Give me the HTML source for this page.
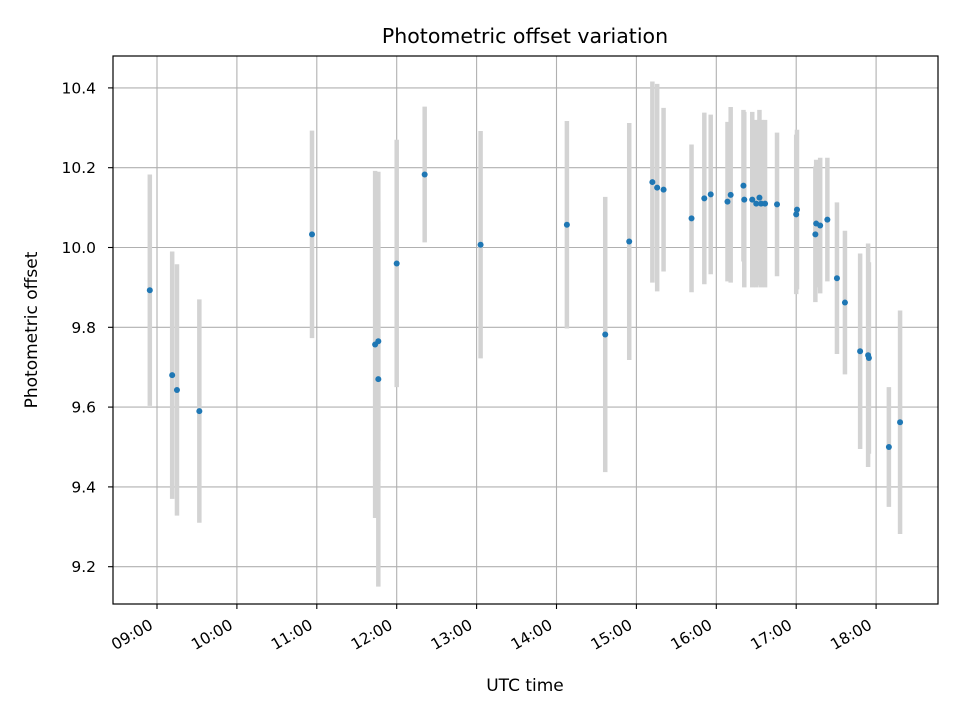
<!DOCTYPE html>
<html><head><meta charset="utf-8"><style>
body{margin:0;background:#fff;}
svg text{font-family:"DejaVu Sans","Liberation Sans",sans-serif;fill:#000;}
</style></head><body>
<svg id="chart" width="960" height="720">
<text x="525" y="43" text-anchor="middle" font-size="20.5">Photometric offset variation</text>
<text x="525" y="691" text-anchor="middle" font-size="17">UTC time</text>
<text transform="translate(37,330) rotate(-90)" text-anchor="middle" font-size="17">Photometric offset</text>
<g id="grid"></g><g id="errs"></g><g id="pts"></g><g id="ticks"></g>
<rect x="113" y="56" width="825" height="548" fill="none" stroke="#000" stroke-width="1.2"/>
</svg>
<script>
const times=[8.91,9.19,9.25,9.53,10.94,11.73,11.77,11.77,12.0,12.35,13.05,14.13,14.61,14.91,15.2,15.26,15.34,15.69,15.85,15.93,16.14,16.18,16.34,16.35,16.45,16.5,16.54,16.56,16.61,16.76,17.0,17.01,17.24,17.25,17.3,17.39,17.51,17.61,17.8,17.9,17.91,18.16,18.3];
const values=[9.893,9.68,9.643,9.59,10.033,9.757,9.765,9.67,9.96,10.183,10.007,10.057,9.782,10.015,10.164,10.15,10.145,10.073,10.123,10.133,10.115,10.132,10.155,10.12,10.12,10.11,10.125,10.11,10.11,10.108,10.083,10.095,10.033,10.06,10.055,10.07,9.923,9.862,9.74,9.73,9.723,9.5,9.562];
const errors=[0.29,0.31,0.315,0.28,0.26,0.435,0.3,0.52,0.31,0.17,0.285,0.26,0.345,0.297,0.252,0.26,0.205,0.185,0.215,0.2,0.2,0.22,0.19,0.22,0.22,0.21,0.22,0.21,0.21,0.18,0.2,0.2,0.17,0.16,0.17,0.155,0.19,0.18,0.245,0.28,0.24,0.15,0.28];
const xTicks=[9,10,11,12,13,14,15,16,17,18];
const xTickLabels=["09:00","10:00","11:00","12:00","13:00","14:00","15:00","16:00","17:00","18:00"];
const yTicks=[9.2,9.4,9.6,9.8,10.0,10.2,10.4];
const yTickLabels=["9.2","9.4","9.6","9.8","10.0","10.2","10.4"];
const NS="http://www.w3.org/2000/svg";
const X=t=>157+(t-9)*79.9;
const Y=v=>247.5-(v-10)*399;
function mk(tag,attrs,parent){const e=document.createElementNS(NS,tag);for(const k in attrs)e.setAttribute(k,attrs[k]);parent.appendChild(e);return e;}
const grid=document.getElementById('grid'),ticks=document.getElementById('ticks'),errs=document.getElementById('errs'),pts=document.getElementById('pts');
xTicks.forEach((t,i)=>{const x=X(t);
 const g=mk('line',{x1:x,x2:x,y1:56,y2:604,stroke:'#b0b0b0','stroke-width':1.1},grid);
 
 
 const tk=mk('line',{x1:x,x2:x,y1:604,y2:609,stroke:'#000','stroke-width':1.1},ticks);
 
 
 const ax=x-3, ay=628;
 const tx=mk('text',{x:ax,y:ay,'font-size':15.5,'text-anchor':'end',transform:`rotate(-30 ${ax} ${ay})`},ticks);
 tx.textContent=xTickLabels[i];
 
 
});
yTicks.forEach((v,i)=>{const y=Y(v);
 const g=mk('line',{x1:113,x2:938,y1:y,y2:y,stroke:'#b0b0b0','stroke-width':1.1},grid);
 
 
 const tk=mk('line',{x1:108,x2:113,y1:y,y2:y,stroke:'#000','stroke-width':1.1},ticks);
 
 
 const tx=mk('text',{x:96,y:y+5.5,'font-size':15.5,'text-anchor':'end'},ticks);
 tx.textContent=yTickLabels[i];
 
 
});
times.forEach((t,i)=>{const x=X(t);
 const e=mk('line',{x1:x,x2:x,y1:Y(values[i]+errors[i]),y2:Y(values[i]-errors[i]),stroke:'#d3d3d3','stroke-width':4.5},errs);
 
 
 const c=mk('circle',{cx:x,cy:Y(values[i]),r:3,fill:'#1f77b4'},pts);
 
 
});
</script>
</body></html>
